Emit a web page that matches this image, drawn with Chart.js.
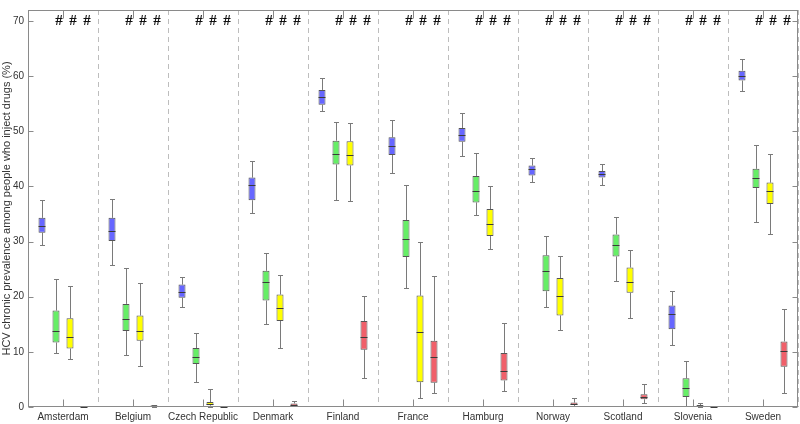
<!DOCTYPE html>
<html>
<head>
<meta charset="utf-8">
<script src="https://cdn.jsdelivr.net/npm/chart.js@4.4.0/dist/chart.umd.min.js"></script>
<style>
  body { margin: 0; background: #fff; }
  canvas { display: block; }
</style>
</head>
<body>
<canvas id="myChart" width="800" height="424"></canvas>
<script>
// categories
const countries = ["Amsterdam", "Belgium", "Czech Republic", "Denmark", "Finland", "France",
  "Hamburg", "Norway", "Scotland", "Slovenia", "Sweden"];

// each entry: [whisker low, q1, median, q3, whisker high]
const blueBox = [
  [29.3, 31.6, 32.9, 34.3, 37.5], [25.8, 30.1, 32.0, 34.3, 37.7], [18.1, 19.8, 20.9, 22.2, 23.6],
  [35.2, 37.5, 40.2, 41.6, 44.6], [53.7, 54.8, 56.2, 57.5, 59.6], [42.4, 45.7, 47.4, 48.9, 52.1],
  [45.6, 48.1, 49.4, 50.6, 53.4], [40.8, 42.0, 43.2, 43.8, 45.1], [40.2, 41.6, 42.2, 42.8, 44.0],
  [11.3, 14.1, 16.8, 18.4, 21.0], [57.4, 59.2, 60.0, 61.0, 63.1]
];
const greenBox = [
  [9.8, 11.7, 13.8, 17.5, 23.3], [9.4, 13.8, 16.0, 18.7, 25.2], [4.6, 7.8, 9.1, 10.7, 13.4],
  [15.0, 19.3, 22.6, 24.7, 28.0], [37.5, 44.0, 45.9, 48.3, 51.6], [21.5, 27.2, 30.4, 33.9, 40.3],
  [34.9, 37.1, 39.1, 41.9, 46.0], [18.2, 21.0, 24.7, 27.5, 31.1], [22.8, 27.3, 29.4, 31.3, 34.4],
  [0.2, 1.8, 3.5, 5.2, 8.4], [33.5, 39.7, 41.6, 43.2, 47.5]
];
const yellowBox = [
  [8.7, 10.6, 12.7, 16.1, 22.0], [7.4, 12.0, 13.7, 16.6, 22.5], [0.0, 0.3, 0.6, 0.9, 3.3],
  [10.7, 15.6, 18.0, 20.4, 23.9], [37.3, 43.8, 45.7, 48.2, 51.5], [1.6, 4.5, 13.6, 20.2, 29.9],
  [28.6, 31.0, 33.2, 35.9, 40.0], [13.9, 16.6, 20.2, 23.4, 27.3], [16.2, 20.7, 22.7, 25.3, 28.4],
  [0.05, 0.1, 0.2, 0.35, 0.8], [31.3, 36.8, 39.1, 40.7, 45.8]
];
const redBox = [
  [0.0, 0.02, 0.05, 0.1, 0.15], [0.05, 0.1, 0.2, 0.3, 0.45], [0.0, 0.01, 0.02, 0.04, 0.06],
  [0.1, 0.2, 0.4, 0.65, 1.1], [5.3, 10.4, 12.7, 15.6, 20.2], [2.5, 4.4, 9.0, 12.0, 23.7],
  [2.9, 4.8, 6.6, 9.8, 15.3], [0.1, 0.35, 0.6, 0.8, 1.6], [0.7, 1.4, 1.9, 2.3, 4.1],
  [0.0, 0.01, 0.02, 0.03, 0.05], [2.6, 7.3, 10.1, 11.9, 17.8]
];

const yTicks = [0, 10, 20, 30, 40, 50, 60, 70];
const markText = "#";      // drawn above series 2-4 in every group
const markLevel = 70;

const allBoxes = [blueBox, greenBox, yellowBox, redBox];
const fills = ["#6666ff", "#66ee66", "#ffff00", "#f0606a"];

const axisGray = "#8a8a8a";
const textGray = "#333333";

// whiskers behind the boxes, medians + frame + marks on top
const boxPlot = {
  id: "boxPlot",
  beforeDatasetsDraw(chart) {
    const { ctx, scales: { y } } = chart;
    ctx.save();
    ctx.strokeStyle = "#7a7a7a";
    ctx.lineWidth = 1;
    allBoxes.forEach((stats, d) => {
      chart.getDatasetMeta(d).data.forEach((bar, i) => {
        const [lo, q1, , q3, hi] = stats[i];
        const x = Math.round(bar.x) + 0.5;
        const yLo = Math.round(y.getPixelForValue(lo)) + 0.5;
        const yHi = Math.round(y.getPixelForValue(hi)) + 0.5;
        ctx.beginPath();
        ctx.moveTo(x, yLo); ctx.lineTo(x, y.getPixelForValue(q1));
        ctx.moveTo(x, y.getPixelForValue(q3)); ctx.lineTo(x, yHi);
        ctx.moveTo(x - 2.5, yLo); ctx.lineTo(x + 2.5, yLo);
        ctx.moveTo(x - 2.5, yHi); ctx.lineTo(x + 2.5, yHi);
        ctx.stroke();
      });
    });
    ctx.restore();
  },
  afterDatasetsDraw(chart) {
    const { ctx, chartArea: a, scales: { x, y } } = chart;
    ctx.save();
    // medians
    ctx.strokeStyle = "#3a3a3a";
    ctx.lineWidth = 1;
    allBoxes.forEach((stats, d) => {
      chart.getDatasetMeta(d).data.forEach((bar, i) => {
        const ym = Math.round(y.getPixelForValue(stats[i][2])) + 0.5;
        ctx.beginPath();
        ctx.moveTo(bar.x - bar.width / 2, ym);
        ctx.lineTo(bar.x + bar.width / 2, ym);
        ctx.stroke();
      });
    });
    // frame
    const L = Math.round(a.left) + 0.5, R = Math.round(a.right) - 0.5;
    const T = Math.round(a.top) + 0.5, B = Math.round(a.bottom) - 0.5;
    ctx.strokeStyle = axisGray;
    ctx.strokeRect(L, T, R - L, B - T);
    // inward ticks, y both sides
    ctx.beginPath();
    yTicks.forEach(v => {
      const py = Math.round(y.getPixelForValue(v)) + 0.5;
      ctx.moveTo(L, py); ctx.lineTo(L + 5, py);
      ctx.moveTo(R, py); ctx.lineTo(R - 5, py);
    });
    // category ticks, top and bottom
    countries.forEach((c, i) => {
      const px = Math.round(x.getPixelForValue(i)) + 0.5;
      ctx.moveTo(px, B); ctx.lineTo(px, B - 7);
      ctx.moveTo(px, T); ctx.lineTo(px, T + 8);
    });
    ctx.stroke();
    // significance marks
    ctx.fillStyle = "#111";
    ctx.font = "bold 15px 'Liberation Serif', serif";
    ctx.textAlign = "center";
    ctx.textBaseline = "middle";
    const my = y.getPixelForValue(markLevel);
    [1, 2, 3].forEach(d => {
      chart.getDatasetMeta(d).data.forEach(bar => {
        ctx.fillText(markText, bar.x + 3, my);
      });
    });
    ctx.restore();
  }
};

const data = {
  labels: countries,
  datasets: allBoxes.map((stats, d) => ({
    data: stats.map(s => [s[1], s[3]]),
    backgroundColor: fills[d],
    borderColor: "#555555",
    borderWidth: 1,
    borderSkipped: false,
    barPercentage: 0.5,
    categoryPercentage: 0.8,
  })),
};

const config = {
  type: "bar",
  data,
  options: {
    responsive: false,
    animation: false,
    devicePixelRatio: 1,
    layout: { padding: { top: 1, right: 2, left: 0, bottom: 0 } },
    plugins: {
      legend: { display: false },
      tooltip: { enabled: false },
    },
    scales: {
      x: {
        afterFit: s => { s.height = 17; },
        grid: {
          offset: true,
          drawTicks: false,
          lineWidth: 1,
          color: ctx => (ctx.index === 0 || ctx.index === countries.length) ? "rgba(0,0,0,0)" : "#bdbdbd",
        },
        border: { display: false, dash: [5, 4] },
        ticks: {
          padding: 4,
          maxRotation: 0,
          autoSkip: false,
          color: textGray,
          font: { family: "'Liberation Sans', Arial, sans-serif", size: 10 },
        },
      },
      y: {
        min: 0,
        max: 72,
        afterFit: s => { s.width = 28; },
        afterBuildTicks: s => { s.ticks = yTicks.map(v => ({ value: v })); },
        grid: { display: false, drawTicks: false },
        border: { display: false },
        ticks: {
          padding: 4,
          color: textGray,
          font: { family: "'Liberation Sans', Arial, sans-serif", size: 10 },
        },
        title: {
          display: true,
          text: "HCV chronic prevalence among people who inject drugs (%)",
          color: textGray,
          padding: 0,
          font: { family: "'Liberation Sans', Arial, sans-serif", size: 11 },
        },
      },
    },
  },
  plugins: [boxPlot],
};

const myChart = new Chart(document.getElementById("myChart"), config);
</script>
</body>
</html>
